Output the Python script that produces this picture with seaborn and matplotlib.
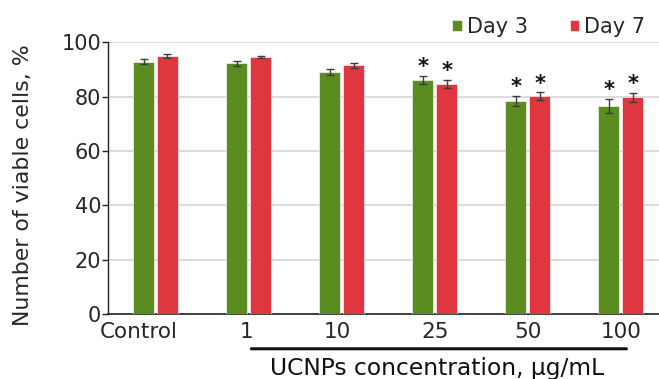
import numpy as np
import pandas as pd
import matplotlib
matplotlib.use("Agg")
import matplotlib.pyplot as plt
import matplotlib.transforms as mtransforms
import seaborn as sns

categories = ["Control", "1", "10", "25", "50", "100"]
day3 = [92.9, 92.3, 89.0, 86.1, 78.4, 76.6]
day7 = [95.1, 94.7, 91.5, 84.8, 80.1, 79.8]
day3_err = [1.0, 0.9, 1.1, 1.5, 2.0, 2.5]
day7_err = [0.7, 0.4, 0.9, 1.5, 1.5, 1.7]
day3_sig = [False, False, False, True, True, True]
day7_sig = [False, False, False, True, True, True]
series = ["Day 3", "Day 7"]
colors = ["#5b8c1f", "#e0363f"]

df = pd.DataFrame({
    "conc": categories * 2,
    "value": day3 + day7,
    "day": [series[0]] * len(categories) + [series[1]] * len(categories),
})

sns.set_style("white")
plt.rcParams["font.family"] = ["DejaVu Sans"]

fig = plt.figure(figsize=(6.59, 3.79), dpi=100)
ax = fig.add_axes([108 / 659, 65 / 379, 1 - 108 / 659, (314 - 42.3) / 379])

sns.barplot(data=df, x="conc", y="value", hue="day", order=categories,
            hue_order=series, palette=colors, errorbar=None,
            width=0.514, gap=0.125, ax=ax, edgecolor="#f2f2f2", linewidth=0.5,
            saturation=1, zorder=3)

errs = [day3_err, day7_err]
sigs = [day3_sig, day7_sig]
vals = [day3, day7]
bar_conts = list(ax.containers)[:2]
for ci, cont in enumerate(bar_conts):
    xs = [p.get_x() + p.get_width() / 2 for p in cont]
    ax.errorbar(xs, vals[ci], yerr=errs[ci], fmt="none", ecolor="#3c3c3c",
                elinewidth=1, capsize=3, capthick=1, zorder=4)
    for x, v, e, s in zip(xs, vals[ci], errs[ci], sigs[ci]):
        if s:
            ax.annotate("*", (x, v + e), xytext=(0, -1), textcoords="offset points",
                        ha="center", va="bottom", fontsize=15, fontweight="bold",
                        color="#111111", zorder=5)

ax.set_ylim(0, 100)
ax.set_xlim(-0.51, 5.41)
ax.set_yticks([0, 20, 40, 60, 80, 100])
ax.yaxis.grid(True, color="#d9d9d9", linewidth=1.3, zorder=0)
ax.xaxis.grid(False)
ax.set_axisbelow(True)
for side in ["top", "right"]:
    ax.spines[side].set_visible(False)
ax.spines["left"].set_color("#222222")
ax.spines["left"].set_linewidth(1.0)
ax.spines["bottom"].set_color("#222222")
ax.spines["bottom"].set_linewidth(1.2)
ax.tick_params(axis="y", which="both", left=True, length=4, width=1,
               color="#222222", labelsize=15, pad=1)
ax.tick_params(axis="x", bottom=False, labelsize=15.5, pad=2)
ax.set_xlabel("")
ax.set_ylabel("Number of viable cells, %", fontsize=15.8, labelpad=8)
ax.yaxis.set_label_coords(-0.137, 0.475)

# shift a few category labels slightly left as in the reference
shifts = {"Control": -17, "1": -2, "10": -4}
for lab in ax.get_xticklabels():
    dx = shifts.get(lab.get_text(), 0)
    if dx:
        lab.set_transform(lab.get_transform() +
                          mtransforms.ScaledTranslation(dx / 100, 0, fig.dpi_scale_trans))

# underline bracket for UCNP concentrations
ax.annotate("", xy=(1.0, -0.128), xytext=(5.09, -0.128),
            xycoords=("data", "axes fraction"), textcoords=("data", "axes fraction"),
            arrowprops=dict(arrowstyle="-", color="#111111", linewidth=2.2))
ax.text(3.03, -0.2, "UCNPs concentration, µg/mL", transform=ax.get_xaxis_transform(),
        ha="center", va="center", fontsize=16.8, color="#111111")

leg = ax.legend(loc="lower right", bbox_to_anchor=(0.99, 0.99), ncol=2, frameon=False,
                fontsize=15, handlelength=0.45, handleheight=0.45, handletextpad=0.25,
                columnspacing=2.0, borderaxespad=0)
fig.savefig("out.png", dpi=100)
